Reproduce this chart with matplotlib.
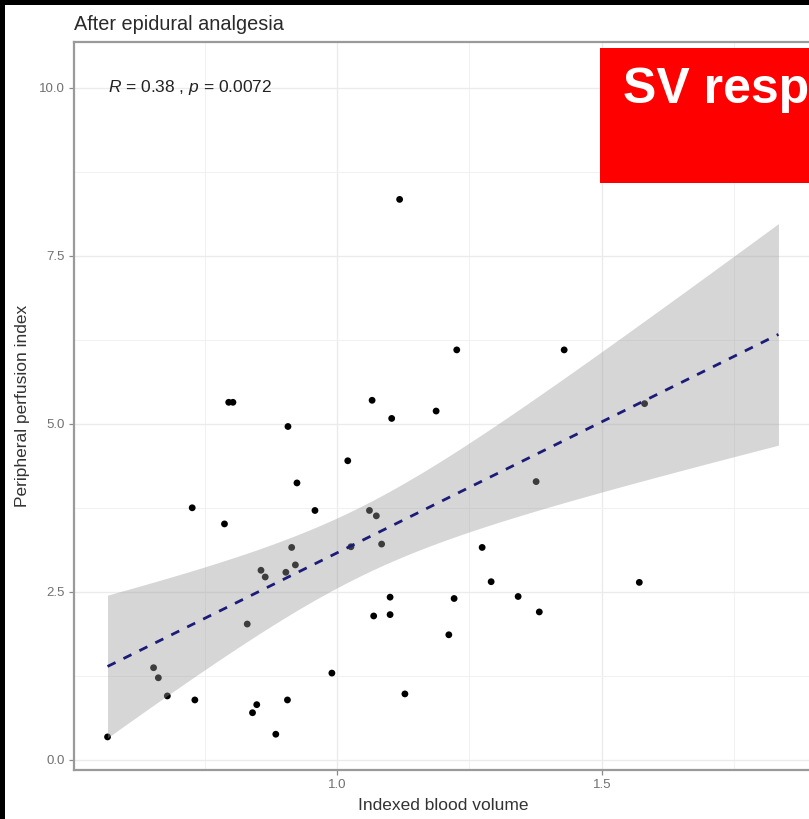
import numpy as np
import matplotlib
matplotlib.use("Agg")
import matplotlib.pyplot as plt
from matplotlib.patches import Rectangle
from matplotlib.ticker import MultipleLocator

# Indexed blood volume vs peripheral perfusion index (after epidural analgesia)
blood_volume = [
    0.566, 0.653, 0.662, 0.679, 0.726, 0.731, 0.787, 0.795, 0.803, 0.830,
    0.840, 0.848, 0.856, 0.864, 0.884, 0.903, 0.906, 0.907, 0.914, 0.921,
    0.924, 0.958, 0.990, 1.020, 1.026, 1.061, 1.066, 1.069, 1.074, 1.084,
    1.100, 1.100, 1.103, 1.118, 1.128, 1.187, 1.211, 1.221, 1.226, 1.274,
    1.291, 1.342, 1.376, 1.382, 1.429, 1.571, 1.581, 1.834,
]
perfusion_index = [
    0.34, 1.37, 1.22, 0.95, 3.75, 0.89, 3.51, 5.32, 5.32, 2.02,
    0.70, 0.82, 2.82, 2.72, 0.38, 2.79, 0.89, 4.96, 3.16, 2.90,
    4.12, 3.71, 1.29, 4.45, 3.17, 3.71, 5.35, 2.14, 3.63, 3.21,
    2.42, 2.16, 5.08, 8.34, 0.98, 5.19, 1.86, 2.40, 6.10, 3.16,
    2.65, 2.43, 4.14, 2.20, 6.10, 2.64, 5.30, 10.19,
]
x_ticks = [1.0, 1.5]
y_ticks = [0.0, 2.5, 5.0, 7.5, 10.0]
r_value = "0.38"
p_value = "0.0072"
banner_text = "SV resp"

FONT = "Liberation Sans"
W, H, DPI = 809, 819, 100

plt.rcParams["mathtext.fontset"] = "custom"
plt.rcParams["mathtext.rm"] = FONT
plt.rcParams["mathtext.it"] = f"{FONT}:italic"

x = np.asarray(blood_volume)
y = np.asarray(perfusion_index)
n = len(x)

# Ordinary least squares fit with a 95% confidence band
slope, intercept = np.polyfit(x, y, 1)
resid = y - (intercept + slope * x)
s = np.sqrt(np.sum(resid ** 2) / (n - 2))
sxx = np.sum((x - x.mean()) ** 2)
T975 = 2.013
xs = np.linspace(x.min(), x.max(), 80)
fit = intercept + slope * xs
half = T975 * s * np.sqrt(1.0 / n + (xs - x.mean()) ** 2 / sxx)

fig = plt.figure(figsize=(W / DPI, H / DPI), dpi=DPI, facecolor="white")

def px(v):
    return v / W

def py(v):
    return 1 - v / H

left, right, top, bottom = 74, 812, 42, 770
ax = fig.add_axes([px(left), py(bottom), px(right - left), (bottom - top) / H])

xr = x.max() - x.min()
yr = y.max() - y.min()
ax.set_xlim(x.min() - 0.05 * xr, x.max() + 0.05 * xr)
ax.set_ylim(y.min() - 0.05 * yr, y.max() + 0.05 * yr)

ax.set_xticks(x_ticks)
ax.set_yticks(y_ticks)
ax.set_xticklabels([f"{t:.1f}" for t in x_ticks])
ax.set_yticklabels([f"{t:.1f}" for t in y_ticks])
ax.xaxis.set_minor_locator(MultipleLocator(0.25))
ax.yaxis.set_minor_locator(MultipleLocator(1.25))

ax.grid(which="major", color="#ebebeb", lw=1.0, zorder=0)
ax.grid(which="minor", color="#f1f1f1", lw=0.7, zorder=0)
ax.set_axisbelow(True)

ax.tick_params(which="major", length=3.6, width=0.9, color="#8a8a8a",
               labelsize=9.5, labelcolor="#707070", pad=3.0)
ax.tick_params(which="minor", length=0)
for lab in ax.get_xticklabels() + ax.get_yticklabels():
    lab.set_fontfamily(FONT)

for sp in ax.spines.values():
    sp.set_color("#9a9a9a")
    sp.set_linewidth(1.6)

ax.scatter(x, y, s=24, color="black", edgecolors="none", zorder=2)
ax.fill_between(xs, fit - half, fit + half, color="#999999", alpha=0.4,
                lw=0, zorder=3)
ax.plot(xs, fit, color="#1c1c78", lw=2.0, ls=(0, (3.2, 3.2)), zorder=4)

ax.text(x.min(), 10.0, f"$R$ = {r_value} , $p$ = {p_value}", fontsize=12.5,
        family=FONT, color="#222222", ha="left", va="center", zorder=5)

fig.text(px(74), py(24), "After epidural analgesia", fontsize=14.3,
         family=FONT, color="#2a2a2a", ha="left", va="center")
fig.text(px((left + right) / 2), py(805), "Indexed blood volume",
         fontsize=12.5, family=FONT, color="#333333", ha="center", va="center")
fig.text(px(23), py((top + bottom) / 2), "Peripheral perfusion index",
         fontsize=12.5, family=FONT, color="#333333", ha="center",
         va="center", rotation=90)

# Red banner over the upper right corner
fig.add_artist(Rectangle((px(600), py(183)), px(W - 600 + 5), (183 - 48) / H,
                         transform=fig.transFigure, facecolor="#ff0000",
                         edgecolor="none", zorder=10))
fig.text(px(623), py(103), banner_text, fontsize=36, fontweight="bold",
         family=FONT, color="white", ha="left", va="baseline", zorder=11)

# Dark frame along the top and left edges
fig.add_artist(Rectangle((0, py(5)), 1, 5 / H, transform=fig.transFigure,
                         facecolor="black", edgecolor="none", zorder=12))
fig.add_artist(Rectangle((0, 0), px(5), 1, transform=fig.transFigure,
                         facecolor="black", edgecolor="none", zorder=12))

fig.savefig("out.png", dpi=DPI, facecolor="white")
